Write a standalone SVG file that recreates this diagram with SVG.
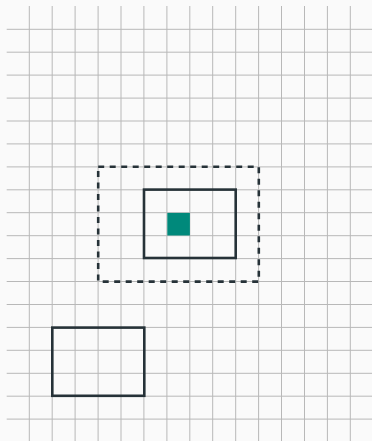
<svg xmlns="http://www.w3.org/2000/svg" width="372" height="441" viewBox="0 0 372 441">
<style>
.g{stroke:#b8b8b8;stroke-width:1;fill:none}
.box{fill:none;stroke:#263238;stroke-width:2.6}
.dash{stroke-dasharray:6 5.5}
</style>
<rect width="372" height="441" fill="#fafafa"/>
<g id="grid" class="g">
<path d="M29.3 6V441M52.2 6V441M75.1 6V441M98.1 6V441M121 6V441M143.9 6V441M166.9 6V441M189.8 6V441M212.7 6V441M235.7 6V441M258.6 6V441M281.5 6V441M304.5 6V441M327.4 6V441M350.3 6V441"/>
<path d="M6.7 29.3H372M6.7 52.2H372M6.7 75.1H372M6.7 98.1H372M6.7 121H372M6.7 143.9H372M6.7 166.9H372M6.7 189.8H372M6.7 212.7H372M6.7 235.7H372M6.7 258.6H372M6.7 281.5H372M6.7 304.5H372M6.7 327.4H372M6.7 350.3H372M6.7 373.3H372M6.7 396.2H372M6.7 419.1H372"/>
</g>
<g id="outer-dashed"><rect class="box dash" x="98.2" y="166.8" width="160.6" height="114.8"/></g>
<g id="inner"><rect class="box" x="144" y="189.6" width="91.7" height="68.4"/></g>
<g id="teal"><rect x="167.3" y="212.9" width="22.6" height="22.6" fill="#00897b"/></g>
<g id="bottom"><rect class="box" x="52.3" y="327.6" width="92" height="68.2"/></g>
</svg>
